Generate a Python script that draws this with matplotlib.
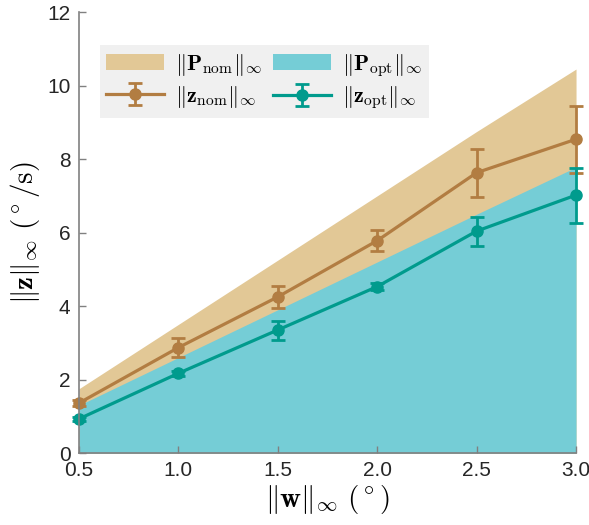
import matplotlib.pyplot as plt
import numpy as np

plt.rcParams['font.family'] = ['Liberation Sans', 'DejaVu Sans']
plt.rcParams['mathtext.fontset'] = 'cm'

# data
w = [0.5, 1.0, 1.5, 2.0, 2.5, 3.0]
p_nom = [1.75, 3.5, 5.25, 7.0, 8.75, 10.45]
p_opt = [1.3, 2.6, 3.9, 5.2, 6.5, 7.78]
z_nom = [1.36, 2.87, 4.25, 5.78, 7.63, 8.54]
z_nom_lo = [1.28, 2.62, 3.95, 5.5, 6.98, 7.63]
z_nom_hi = [1.45, 3.12, 4.55, 6.08, 8.27, 9.45]
z_opt = [0.93, 2.17, 3.35, 4.53, 6.04, 7.02]
z_opt_lo = [0.88, 2.1, 3.09, 4.43, 5.64, 6.27]
z_opt_hi = [0.98, 2.24, 3.59, 4.63, 6.43, 7.75]

c_nom, c_nom_band = '#B27D42', '#E2C896'
c_opt, c_opt_band = '#009B8D', '#75CDD6'

fig = plt.figure(figsize=(5.89, 5.25), dpi=100)
ax = fig.add_axes([0.134, 0.137, 0.844, 0.84])

b_nom = ax.fill_between(w, 0, p_nom, color=c_nom_band, lw=0)
b_opt = ax.fill_between(w, 0, p_opt, color=c_opt_band, lw=0)

def err(z, lo, hi):
    z = np.array(z)
    return [z - np.array(lo), np.array(hi) - z]

e_nom = ax.errorbar(w, z_nom, yerr=err(z_nom, z_nom_lo, z_nom_hi), color=c_nom, lw=2.3,
                    marker='o', ms=8, capsize=5, capthick=2, elinewidth=2, clip_on=False)
e_opt = ax.errorbar(w, z_opt, yerr=err(z_opt, z_opt_lo, z_opt_hi), color=c_opt, lw=2.3,
                    marker='o', ms=8, capsize=5, capthick=2, elinewidth=2, clip_on=False)

ax.set_xlim(0.5, 3.0)
ax.set_ylim(0, 12)
ax.set_xticks(w)
ax.set_xticklabels([f'{v:.1f}' for v in w])
ax.set_yticks([0, 2, 4, 6, 8, 10, 12])
ax.tick_params(direction='in', labelsize=15, labelcolor='#262626', color='#808080',
               length=5, width=1, pad=6)
for s in ['top', 'right']:
    ax.spines[s].set_visible(False)
for s in ['left', 'bottom']:
    ax.spines[s].set_color('#808080')
    ax.spines[s].set_linewidth(1.2)

ax.set_xlabel(r'$\|\mathbf{w}\|_\infty\ (^\circ)$', fontsize=21, labelpad=2)
ax.set_ylabel(r'$\|\mathbf{z}\|_\infty\ (^\circ/\mathrm{s})$', fontsize=21, labelpad=4)

handles = [b_nom, e_nom, b_opt, e_opt]
labels = [r'$\|\mathbf{P}_{\rm nom}\|_\infty$', r'$\|\mathbf{z}_{\rm nom}\|_\infty$',
          r'$\|\mathbf{P}_{\rm opt}\|_\infty$', r'$\|\mathbf{z}_{\rm opt}\|_\infty$']
ax.legend(handles, labels, ncol=2, loc='upper left',
          bbox_to_anchor=(0.042, 0.925), borderaxespad=0, fontsize=16, frameon=True,
          fancybox=False, facecolor='#F0F0F0', edgecolor='none', framealpha=1,
          handlelength=2.6, columnspacing=0.5, handletextpad=0.5,
          borderpad=0.3, labelspacing=0.25)

fig.savefig('out.png', dpi=100)
